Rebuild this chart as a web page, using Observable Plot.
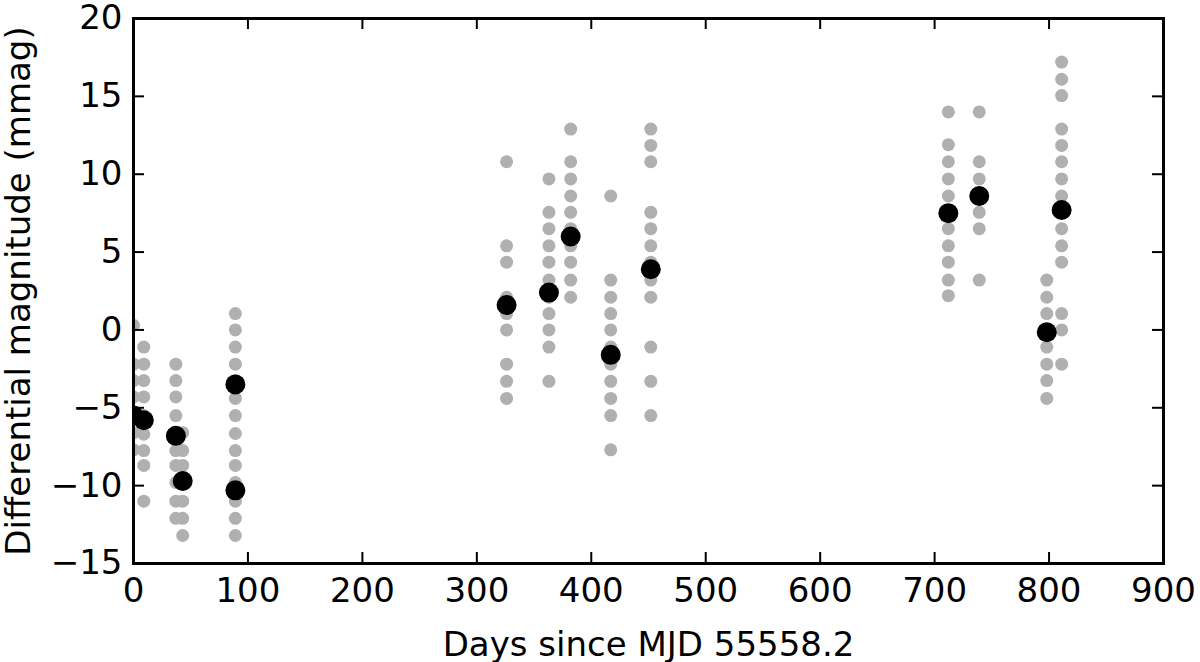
<!DOCTYPE html>
<html>
<head>
<meta charset="utf-8">
<script src="https://cdn.jsdelivr.net/npm/d3@7"></script>
<script src="https://cdn.jsdelivr.net/npm/@observablehq/plot@0.6"></script>
<style>
  html, body { margin: 0; padding: 0; background: #fff; }
  #chart svg { display: block; }
</style>
</head>
<body>
<div id="chart"></div>
<script>
// Individual measurements (grey), grouped by epoch (days since MJD 55558.2)
const greyEpochs = [0, 9, 37, 43, 89, 326, 363, 382, 417, 452, 712, 739, 798, 811];
const greyValues = [
  [0.3, -2.2, -3.25, -4.3, -5.4, -6.6, -7.7],
  [-1.1, -2.2, -3.25, -4.3, -5.5, -6.7, -7.75, -8.7, -11.0],
  [-2.2, -3.25, -4.3, -5.5, -6.7, -7.75, -8.7, -9.8, -11.0, -12.1],
  [-6.6, -7.75, -8.7, -9.8, -11.0, -12.1, -13.2],
  [1.05, 0, -1.1, -2.2, -3.25, -4.4, -5.5, -6.65, -7.75, -8.7, -9.8, -11.0, -12.1, -13.2],
  [10.8, 5.4, 4.35, 2.1, 1.05, 0, -2.2, -3.3, -4.4],
  [9.7, 7.55, 6.5, 5.4, 4.35, 3.2, 2.1, 1.05, 0, -1.1, -3.3],
  [12.9, 10.8, 9.7, 8.6, 7.55, 6.5, 5.4, 4.35, 3.2, 2.1],
  [8.6, 3.2, 2.1, 1.05, 0, -1.1, -2.2, -3.3, -4.4, -5.5, -7.7],
  [12.9, 11.85, 10.8, 7.55, 6.5, 5.4, 4.35, 3.2, 2.1, -1.1, -3.3, -5.5],
  [14, 11.9, 10.8, 9.7, 8.6, 7.55, 6.5, 5.4, 4.35, 3.2, 2.2],
  [14, 10.8, 9.7, 7.55, 6.5, 3.2],
  [3.2, 2.1, 1.05, 0, -1.1, -2.2, -3.25, -4.4],
  [17.2, 16.1, 15.05, 12.9, 11.85, 10.8, 9.7, 8.6, 7.55, 6.5, 5.4, 4.35, 1.05, 0, -2.2]
];

// Nightly means (black)
const meanDays = [0, 9, 37, 43, 89, 89, 326, 363, 382, 417, 452, 712, 739, 798, 811];
const meanMags = [-5.5, -5.8, -6.8, -9.7, -3.5, -10.3, 1.6, 2.4, 6.0, -1.6, 3.9, 7.5, 8.6, -0.15, 7.7];

// Axis ticks
const xTicks = [0, 100, 200, 300, 400, 500, 600, 700, 800, 900];
const yTicks = [-15, -10, -5, 0, 5, 10, 15, 20];

const greyData = greyEpochs.flatMap((d, i) => greyValues[i].map(v => ({day: d, mag: v})));
const meanData = meanDays.map((d, i) => ({day: d, mag: meanMags[i]}));

const W = 1200, H = 662;
const mL = 133, mR = 37, mT = 18, mB = 99;
const frameW = W - mL - mR, frameH = H - mT - mB;
const tickLen = 11;

const chart = Plot.plot({
  width: W,
  height: H,
  marginLeft: mL,
  marginRight: mR,
  marginTop: mT,
  marginBottom: mB,
  style: {fontFamily: "DejaVu Sans", fontSize: "34px", color: "#000", background: "#fff"},
  x: {domain: [0, 900]},
  y: {domain: [-15, 20]},
  marks: [
    Plot.dot(greyData, {x: "day", y: "mag", r: 6.5, fill: "#b0b0b0", stroke: "none", clip: true}),
    Plot.dot(meanData, {x: "day", y: "mag", r: 10, fill: "#000", stroke: "none", clip: true}),
    // inward ticks on all four sides
    Plot.tickX(xTicks, {x: d => d, insetTop: frameH - tickLen, stroke: "#000", strokeWidth: 2}),
    Plot.tickX(xTicks, {x: d => d, insetBottom: frameH - tickLen, stroke: "#000", strokeWidth: 2}),
    Plot.tickY(yTicks, {y: d => d, insetRight: frameW - tickLen, stroke: "#000", strokeWidth: 2}),
    Plot.tickY(yTicks, {y: d => d, insetLeft: frameW - tickLen, stroke: "#000", strokeWidth: 2}),
    Plot.axisX(xTicks, {
      tickSize: 0, tickPadding: 14,
      label: "Days since MJD 55558.2", labelAnchor: "center", labelArrow: "none", labelOffset: 92
    }),
    Plot.axisY(yTicks, {
      tickSize: 0, tickPadding: 11,
      label: "Differential magnitude (mmag)", labelAnchor: "center", labelArrow: "none", labelOffset: 128
    }),
    Plot.frame({stroke: "#000", strokeWidth: 3})
  ]
});

document.getElementById("chart").appendChild(chart);
</script>
</body>
</html>
